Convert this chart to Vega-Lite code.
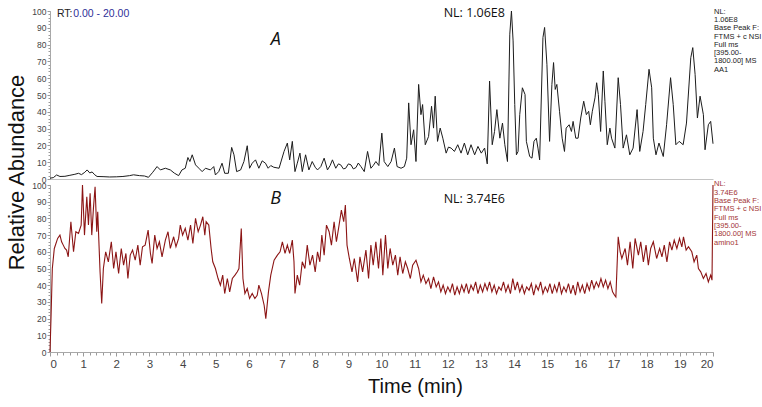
{
  "$schema": "https://vega.github.io/schema/vega-lite/v6.json",
  "background": "white",
  "padding": {"left": 5, "top": 7, "right": 0, "bottom": 5},
  "bounds": "flush",
  "spacing": 6,
  "config": {"view": {"stroke": null}},
  "datasets": {
    "a": [
      {"t":0.00,"v":0.5},{"t":0.10,"v":0.8},{"t":0.20,"v":2.4},{"t":0.30,"v":1.5},{"t":0.45,"v":1.6},{"t":0.60,"v":2.2},{"t":0.75,"v":2.8},{"t":0.86,"v":3.4},{"t":0.95,"v":2.6},{"t":1.05,"v":4.0},{"t":1.12,"v":5.4},{"t":1.20,"v":3.6},{"t":1.27,"v":4.2},{"t":1.35,"v":2.5},{"t":1.42,"v":1.5},{"t":1.60,"v":1.4},{"t":1.80,"v":1.2},{"t":2.00,"v":1.3},{"t":2.20,"v":1.5},{"t":2.40,"v":2.0},{"t":2.52,"v":2.5},{"t":2.70,"v":2.0},{"t":2.85,"v":1.8},{"t":2.97,"v":1.0},{"t":3.10,"v":4.0},{"t":3.23,"v":7.4},{"t":3.33,"v":5.4},{"t":3.48,"v":6.4},{"t":3.63,"v":5.4},{"t":3.75,"v":3.5},{"t":3.88,"v":2.0},{"t":3.98,"v":5.4},{"t":4.08,"v":6.4},{"t":4.16,"v":12.8},{"t":4.22,"v":10.4},{"t":4.29,"v":14.4},{"t":4.39,"v":8.4},{"t":4.49,"v":6.4},{"t":4.59,"v":4.4},{"t":4.69,"v":6.4},{"t":4.84,"v":5.4},{"t":4.94,"v":7.4},{"t":4.99,"v":2.4},{"t":5.09,"v":4.4},{"t":5.19,"v":9.4},{"t":5.27,"v":3.4},{"t":5.38,"v":3.4},{"t":5.48,"v":18.8},{"t":5.55,"v":14.4},{"t":5.63,"v":4.4},{"t":5.75,"v":5.4},{"t":5.85,"v":10.4},{"t":5.95,"v":19.8},{"t":6.02,"v":6.4},{"t":6.10,"v":9.4},{"t":6.20,"v":11.4},{"t":6.30,"v":6.4},{"t":6.40,"v":10.8},{"t":6.50,"v":9.4},{"t":6.58,"v":6.4},{"t":6.66,"v":8.0},{"t":6.75,"v":7.0},{"t":6.91,"v":6.4},{"t":7.06,"v":16.4},{"t":7.16,"v":21.4},{"t":7.23,"v":11.4},{"t":7.31,"v":22.4},{"t":7.39,"v":4.4},{"t":7.46,"v":9.4},{"t":7.54,"v":15.4},{"t":7.61,"v":4.4},{"t":7.71,"v":14.4},{"t":7.81,"v":5.4},{"t":7.91,"v":10.4},{"t":8.00,"v":7.0},{"t":8.07,"v":5.4},{"t":8.17,"v":7.4},{"t":8.27,"v":12.4},{"t":8.37,"v":5.4},{"t":8.45,"v":8.0},{"t":8.52,"v":11.4},{"t":8.62,"v":6.4},{"t":8.70,"v":9.0},{"t":8.77,"v":8.4},{"t":8.85,"v":6.0},{"t":8.92,"v":6.4},{"t":9.00,"v":9.0},{"t":9.08,"v":8.4},{"t":9.15,"v":6.0},{"t":9.23,"v":6.8},{"t":9.30,"v":9.5},{"t":9.38,"v":7.4},{"t":9.48,"v":4.4},{"t":9.58,"v":16.4},{"t":9.68,"v":6.4},{"t":9.75,"v":8.0},{"t":9.83,"v":10.4},{"t":9.92,"v":8.0},{"t":10.01,"v":27.3},{"t":10.08,"v":10.4},{"t":10.19,"v":7.4},{"t":10.29,"v":10.4},{"t":10.39,"v":18.4},{"t":10.47,"v":7.4},{"t":10.59,"v":6.4},{"t":10.69,"v":7.4},{"t":10.76,"v":12.4},{"t":10.82,"v":45.3},{"t":10.89,"v":20.4},{"t":10.97,"v":29.3},{"t":11.04,"v":10.4},{"t":11.12,"v":56.3},{"t":11.19,"v":38.3},{"t":11.24,"v":44.3},{"t":11.32,"v":20.4},{"t":11.42,"v":25.3},{"t":11.51,"v":43.3},{"t":11.57,"v":30.3},{"t":11.62,"v":49.3},{"t":11.69,"v":22.4},{"t":11.77,"v":30.3},{"t":11.85,"v":24.3},{"t":11.95,"v":15.4},{"t":12.02,"v":19.0},{"t":12.10,"v":18.4},{"t":12.20,"v":16.4},{"t":12.30,"v":20.4},{"t":12.40,"v":15.4},{"t":12.50,"v":21.4},{"t":12.60,"v":14.4},{"t":12.70,"v":20.4},{"t":12.81,"v":14.4},{"t":12.91,"v":19.4},{"t":13.01,"v":15.4},{"t":13.11,"v":18.4},{"t":13.19,"v":9.0},{"t":13.26,"v":58.3},{"t":13.34,"v":20.4},{"t":13.41,"v":28.3},{"t":13.48,"v":41.3},{"t":13.57,"v":24.3},{"t":13.65,"v":33.3},{"t":13.72,"v":20.4},{"t":13.80,"v":10.4},{"t":13.87,"v":86.2},{"t":13.92,"v":100},{"t":13.97,"v":82.2},{"t":14.02,"v":44.3},{"t":14.07,"v":14.4},{"t":14.12,"v":16.4},{"t":14.17,"v":38.3},{"t":14.25,"v":54.3},{"t":14.33,"v":50.3},{"t":14.37,"v":22.4},{"t":14.47,"v":13.4},{"t":14.54,"v":12.4},{"t":14.60,"v":22.4},{"t":14.67,"v":24.3},{"t":14.72,"v":18.4},{"t":14.77,"v":11.4},{"t":14.87,"v":84.2},{"t":14.92,"v":90.2},{"t":14.99,"v":68.3},{"t":15.07,"v":22.4},{"t":15.14,"v":56.3},{"t":15.19,"v":69.3},{"t":15.24,"v":53.3},{"t":15.29,"v":56.3},{"t":15.37,"v":40.3},{"t":15.45,"v":24.3},{"t":15.52,"v":16.4},{"t":15.57,"v":30.3},{"t":15.66,"v":32.3},{"t":15.73,"v":28.3},{"t":15.78,"v":34.3},{"t":15.86,"v":24.3},{"t":15.93,"v":24.3},{"t":16.01,"v":36.3},{"t":16.10,"v":46.3},{"t":16.18,"v":38.3},{"t":16.25,"v":40.3},{"t":16.30,"v":32.3},{"t":16.36,"v":40.3},{"t":16.44,"v":48.3},{"t":16.49,"v":57.3},{"t":16.54,"v":50.3},{"t":16.61,"v":28.3},{"t":16.69,"v":64.3},{"t":16.74,"v":46.3},{"t":16.81,"v":20.4},{"t":16.89,"v":30.3},{"t":16.94,"v":24.3},{"t":17.04,"v":18.4},{"t":17.14,"v":60.3},{"t":17.21,"v":44.3},{"t":17.29,"v":18.4},{"t":17.39,"v":26.3},{"t":17.49,"v":14.4},{"t":17.59,"v":18.4},{"t":17.71,"v":41.3},{"t":17.79,"v":16.4},{"t":17.89,"v":28.3},{"t":17.97,"v":44.3},{"t":18.07,"v":65.3},{"t":18.15,"v":54.3},{"t":18.20,"v":24.3},{"t":18.28,"v":14.4},{"t":18.37,"v":21.4},{"t":18.50,"v":13.4},{"t":18.60,"v":32.3},{"t":18.72,"v":60.3},{"t":18.80,"v":44.3},{"t":18.88,"v":20.4},{"t":18.98,"v":22.4},{"t":19.10,"v":20.4},{"t":19.20,"v":33.3},{"t":19.33,"v":72.2},{"t":19.39,"v":78.2},{"t":19.46,"v":62.3},{"t":19.53,"v":36.3},{"t":19.61,"v":49.3},{"t":19.71,"v":38.3},{"t":19.76,"v":17.4},{"t":19.86,"v":32.3},{"t":19.93,"v":34.3},{"t":20.00,"v":21.0}
    ],
    "b": [
      {"t":0.00,"v":0},{"t":0.03,"v":20},{"t":0.07,"v":50},{"t":0.13,"v":62},{"t":0.23,"v":68},{"t":0.30,"v":70},{"t":0.35,"v":66},{"t":0.40,"v":64},{"t":0.45,"v":62},{"t":0.50,"v":61},{"t":0.55,"v":57},{"t":0.63,"v":78},{"t":0.71,"v":60},{"t":0.78,"v":72},{"t":0.86,"v":71},{"t":0.94,"v":76},{"t":0.98,"v":100},{"t":1.04,"v":70},{"t":1.11,"v":93},{"t":1.16,"v":76},{"t":1.21,"v":95},{"t":1.26,"v":70},{"t":1.31,"v":86},{"t":1.36,"v":99},{"t":1.41,"v":72},{"t":1.44,"v":84},{"t":1.51,"v":48},{"t":1.56,"v":29},{"t":1.61,"v":50},{"t":1.68,"v":60},{"t":1.76,"v":54},{"t":1.85,"v":66},{"t":1.92,"v":50},{"t":1.99,"v":60},{"t":2.07,"v":47},{"t":2.15,"v":62},{"t":2.22,"v":52},{"t":2.29,"v":59},{"t":2.35,"v":44},{"t":2.42,"v":58},{"t":2.49,"v":61},{"t":2.57,"v":55},{"t":2.65,"v":64},{"t":2.72,"v":52},{"t":2.79,"v":63},{"t":2.87,"v":64},{"t":2.96,"v":73},{"t":3.03,"v":59},{"t":3.08,"v":53},{"t":3.16,"v":70},{"t":3.23,"v":62},{"t":3.30,"v":66},{"t":3.38,"v":57},{"t":3.48,"v":67},{"t":3.56,"v":72},{"t":3.63,"v":62},{"t":3.73,"v":69},{"t":3.80,"v":63},{"t":3.88,"v":68},{"t":3.93,"v":76},{"t":4.00,"v":70},{"t":4.08,"v":74},{"t":4.16,"v":67},{"t":4.24,"v":76},{"t":4.31,"v":65},{"t":4.39,"v":80},{"t":4.47,"v":72},{"t":4.54,"v":76},{"t":4.61,"v":81},{"t":4.67,"v":70},{"t":4.71,"v":78},{"t":4.79,"v":76},{"t":4.86,"v":62},{"t":4.91,"v":54},{"t":4.99,"v":50},{"t":5.07,"v":44},{"t":5.14,"v":40},{"t":5.21,"v":46},{"t":5.27,"v":35},{"t":5.35,"v":44},{"t":5.42,"v":36},{"t":5.50,"v":44},{"t":5.58,"v":46},{"t":5.65,"v":48},{"t":5.70,"v":50},{"t":5.77,"v":74},{"t":5.82,"v":44},{"t":5.88,"v":35},{"t":5.95,"v":38},{"t":6.02,"v":32},{"t":6.10,"v":35},{"t":6.18,"v":32},{"t":6.25,"v":34},{"t":6.30,"v":40},{"t":6.38,"v":35},{"t":6.46,"v":28},{"t":6.51,"v":20},{"t":6.59,"v":36},{"t":6.66,"v":46},{"t":6.76,"v":55},{"t":6.86,"v":58},{"t":6.94,"v":60},{"t":7.01,"v":66},{"t":7.09,"v":59},{"t":7.16,"v":64},{"t":7.23,"v":59},{"t":7.31,"v":67},{"t":7.36,"v":54},{"t":7.39,"v":35},{"t":7.46,"v":46},{"t":7.53,"v":40},{"t":7.61,"v":54},{"t":7.69,"v":50},{"t":7.76,"v":64},{"t":7.84,"v":52},{"t":7.92,"v":58},{"t":8.00,"v":48},{"t":8.07,"v":60},{"t":8.14,"v":54},{"t":8.20,"v":70},{"t":8.27,"v":58},{"t":8.34,"v":76},{"t":8.42,"v":72},{"t":8.49,"v":64},{"t":8.57,"v":78},{"t":8.64,"v":66},{"t":8.72,"v":76},{"t":8.79,"v":85},{"t":8.86,"v":78},{"t":8.91,"v":88},{"t":8.96,"v":64},{"t":9.03,"v":56},{"t":9.11,"v":48},{"t":9.18,"v":56},{"t":9.28,"v":42},{"t":9.35,"v":57},{"t":9.43,"v":48},{"t":9.53,"v":61},{"t":9.61,"v":44},{"t":9.68,"v":64},{"t":9.75,"v":52},{"t":9.83,"v":66},{"t":9.91,"v":50},{"t":9.98,"v":68},{"t":10.04,"v":46},{"t":10.12,"v":70},{"t":10.19,"v":50},{"t":10.26,"v":62},{"t":10.34,"v":52},{"t":10.42,"v":58},{"t":10.49,"v":46},{"t":10.56,"v":57},{"t":10.64,"v":47},{"t":10.72,"v":54},{"t":10.79,"v":50},{"t":10.87,"v":44},{"t":10.94,"v":52},
      {"t":11.04,"v":55},{"t":11.12,"v":50},{"t":11.19,"v":42},{"t":11.26,"v":46},{"t":11.34,"v":41},{"t":11.42,"v":44},{"t":11.49,"v":38},{"t":11.57,"v":45},{"t":11.65,"v":39},{"t":11.72,"v":42},{"t":11.79,"v":36},{"t":11.86,"v":40},{"t":11.93,"v":35},{"t":12.00,"v":39},{"t":12.07,"v":36},{"t":12.14,"v":41},{"t":12.21,"v":34},{"t":12.28,"v":39},{"t":12.35,"v":35},{"t":12.42,"v":40},{"t":12.49,"v":36},{"t":12.56,"v":41},{"t":12.63,"v":35},{"t":12.70,"v":40},{"t":12.77,"v":37},{"t":12.84,"v":42},{"t":12.91,"v":35},{"t":12.98,"v":40},{"t":13.05,"v":36},{"t":13.12,"v":41},{"t":13.19,"v":37},{"t":13.26,"v":42},{"t":13.33,"v":36},{"t":13.40,"v":40},{"t":13.47,"v":35},{"t":13.54,"v":39},{"t":13.61,"v":37},{"t":13.68,"v":42},{"t":13.75,"v":36},{"t":13.82,"v":40},{"t":13.89,"v":35},{"t":13.96,"v":44},{"t":14.03,"v":37},{"t":14.10,"v":42},{"t":14.17,"v":36},{"t":14.24,"v":40},{"t":14.31,"v":35},{"t":14.38,"v":39},{"t":14.45,"v":37},{"t":14.52,"v":41},{"t":14.59,"v":34},{"t":14.66,"v":40},{"t":14.73,"v":37},{"t":14.80,"v":42},{"t":14.87,"v":35},{"t":14.94,"v":39},{"t":15.01,"v":36},{"t":15.08,"v":41},{"t":15.15,"v":35},{"t":15.22,"v":40},{"t":15.29,"v":36},{"t":15.36,"v":42},{"t":15.43,"v":35},{"t":15.50,"v":39},{"t":15.57,"v":36},{"t":15.64,"v":41},{"t":15.71,"v":35},{"t":15.78,"v":40},{"t":15.85,"v":34},{"t":15.92,"v":42},{"t":15.99,"v":36},{"t":16.06,"v":40},{"t":16.13,"v":35},{"t":16.20,"v":41},{"t":16.27,"v":37},{"t":16.34,"v":43},{"t":16.41,"v":38},{"t":16.48,"v":42},{"t":16.55,"v":39},{"t":16.62,"v":44},{"t":16.69,"v":39},{"t":16.76,"v":43},{"t":16.83,"v":38},{"t":16.90,"v":42},{"t":16.97,"v":36},{"t":17.03,"v":34},{"t":17.07,"v":33},{"t":17.14,"v":69},{"t":17.20,"v":60},{"t":17.25,"v":56},{"t":17.35,"v":62},{"t":17.42,"v":52},{"t":17.50,"v":66},{"t":17.58,"v":50},{"t":17.65,"v":68},{"t":17.75,"v":58},{"t":17.82,"v":66},{"t":17.90,"v":54},{"t":17.98,"v":64},{"t":18.05,"v":52},{"t":18.12,"v":62},{"t":18.20,"v":66},{"t":18.30,"v":56},{"t":18.39,"v":62},{"t":18.46,"v":57},{"t":18.53,"v":64},{"t":18.61,"v":54},{"t":18.69,"v":66},{"t":18.76,"v":61},{"t":18.83,"v":67},{"t":18.91,"v":62},{"t":18.99,"v":68},{"t":19.06,"v":63},{"t":19.11,"v":69},{"t":19.19,"v":61},{"t":19.26,"v":63},{"t":19.36,"v":60},{"t":19.43,"v":54},{"t":19.51,"v":58},{"t":19.56,"v":50},{"t":19.63,"v":48},{"t":19.71,"v":44},{"t":19.79,"v":47},{"t":19.86,"v":42},{"t":19.93,"v":46},{"t":19.97,"v":43},{"t":20.00,"v":100}
    ]
  },
  "vconcat": [
    {
      "width": 663,
      "height": 168,
      "layer": [
        {
          "data": {"name": "a"},
          "mark": {"type": "line", "strokeOpacity": 0},
          "encoding": {
            "x": {"field": "t", "type": "quantitative", "scale": {"domain": [0, 20], "nice": false}, "axis": null},
            "y": {"field": "v", "type": "quantitative", "scale": {"domain": [0, 100], "nice": false}, "axis": {"orient": "left", "tickCount": 50, "labels": false, "domain": false, "tickSize": 2, "tickColor": "#9a9a9a", "grid": false, "title": null}}
          }
        },
        {
          "data": {"name": "a"},
          "mark": {"type": "line", "color": "#1c1c1c", "strokeWidth": 1},
          "encoding": {
            "x": {"field": "t", "type": "quantitative", "scale": {"domain": [0, 20], "nice": false}, "axis": {"orient": "bottom", "labels": false, "ticks": false, "domain": true, "domainColor": "#c4c4c4", "grid": false, "title": null}},
            "y": {"field": "v", "type": "quantitative", "scale": {"domain": [0, 100], "nice": false}, "axis": {"orient": "left", "tickCount": 10, "grid": false, "domainColor": "#a8a8a8", "tickColor": "#9a9a9a", "tickSize": 3, "labelPadding": 1, "labelFont": "Liberation Sans", "labelFontSize": 8.5, "labelColor": "#444444", "title": "Relative Abundance", "titleFont": "Liberation Sans", "titleFontSize": 22, "titleFontWeight": "normal", "titleColor": "#111111", "titleAngle": -90, "titleX": -34, "titleY": 161, "titleAlign": "center", "titleBaseline": "middle"}}
          }
        },
        {
          "data": {"values": [{}]},
          "mark": {"type": "text", "text": "RT:", "align": "left", "baseline": "middle", "font": "Liberation Sans", "fontSize": 10.5, "color": "#222222"},
          "encoding": {"x": {"datum": 0.21, "type": "quantitative", "axis": null}, "y": {"datum": 98.2, "type": "quantitative", "axis": null}}
        },
        {
          "data": {"values": [{}]},
          "mark": {"type": "text", "text": "0.00 - 20.00", "align": "left", "baseline": "middle", "font": "Liberation Sans", "fontSize": 10.5, "color": "#2e2e98"},
          "encoding": {"x": {"datum": 0.70, "type": "quantitative", "axis": null}, "y": {"datum": 98.2, "type": "quantitative", "axis": null}}
        },
        {
          "data": {"values": [{}]},
          "mark": {"type": "text", "text": "A", "align": "center", "baseline": "middle", "font": "Open Sans", "fontSize": 18, "fontStyle": "italic", "color": "#111111"},
          "encoding": {"x": {"datum": 6.81, "type": "quantitative", "axis": null}, "y": {"datum": 82.7, "type": "quantitative", "axis": null}}
        },
        {
          "data": {"values": [{}]},
          "mark": {"type": "text", "text": "NL: 1.06E8", "align": "center", "baseline": "middle", "font": "Open Sans", "fontSize": 12.5, "color": "#111111"},
          "encoding": {"x": {"datum": 12.8, "type": "quantitative", "axis": null}, "y": {"datum": 98.8, "type": "quantitative", "axis": null}}
        },
        {
          "data": {"values": [{}]},
          "mark": {"type": "text", "text": ["NL:", "1.06E8", "Base Peak F:", "FTMS + c NSI", "Full ms", "[395.00-", "1800.00]  MS", "AA1"], "align": "left", "baseline": "top", "lineHeight": 8.3, "font": "Liberation Sans", "fontSize": 7.5, "color": "#222222"},
          "encoding": {"x": {"datum": 20.03, "type": "quantitative", "axis": null}, "y": {"datum": 102, "type": "quantitative", "axis": null}}
        }
      ],
      "resolve": {"axis": {"x": "independent", "y": "independent"}}
    },
    {
      "width": 663,
      "height": 167,
      "layer": [
        {
          "data": {"name": "b"},
          "mark": {"type": "line", "strokeOpacity": 0},
          "encoding": {
            "x": {"field": "t", "type": "quantitative", "scale": {"domain": [0, 20], "nice": false}, "axis": {"orient": "bottom", "tickCount": 100, "labels": false, "domain": false, "tickSize": 3, "tickColor": "#9a9a9a", "grid": false, "title": null}},
            "y": {"field": "v", "type": "quantitative", "scale": {"domain": [0, 100], "nice": false}, "axis": {"orient": "left", "tickCount": 50, "labels": false, "domain": false, "tickSize": 2, "tickColor": "#9a9a9a", "grid": false, "title": null}}
          }
        },
        {
          "data": {"name": "b"},
          "mark": {"type": "line", "color": "#8c1515", "strokeWidth": 1.1},
          "encoding": {
            "x": {"field": "t", "type": "quantitative", "scale": {"domain": [0, 20], "nice": false}, "axis": {"orient": "bottom", "tickCount": 20, "grid": false, "domainColor": "#a8a8a8", "tickColor": "#9a9a9a", "tickSize": 4, "labelPadding": 2, "labelFont": "Liberation Sans", "labelFontSize": 11.5, "labelColor": "#444444", "title": "Time (min)", "titleFont": "Liberation Sans", "titleFontSize": 20, "titleFontWeight": "normal", "titleColor": "#111111", "titlePadding": 7, "titleX": 365, "titleAlign": "center"}},
            "y": {"field": "v", "type": "quantitative", "scale": {"domain": [0, 100], "nice": false}, "axis": {"orient": "left", "tickCount": 10, "grid": false, "domainColor": "#a8a8a8", "tickColor": "#9a9a9a", "tickSize": 3, "labelPadding": 1, "labelFont": "Liberation Sans", "labelFontSize": 8.5, "labelColor": "#444444", "title": null}}
          }
        },
        {
          "data": {"values": [{}]},
          "mark": {"type": "text", "text": "B", "align": "center", "baseline": "middle", "font": "Open Sans", "fontSize": 18, "fontStyle": "italic", "color": "#111111"},
          "encoding": {"x": {"datum": 6.81, "type": "quantitative", "axis": null}, "y": {"datum": 91.6, "type": "quantitative", "axis": null}}
        },
        {
          "data": {"values": [{}]},
          "mark": {"type": "text", "text": "NL: 3.74E6", "align": "center", "baseline": "middle", "font": "Open Sans", "fontSize": 12.5, "color": "#111111"},
          "encoding": {"x": {"datum": 12.8, "type": "quantitative", "axis": null}, "y": {"datum": 91.6, "type": "quantitative", "axis": null}}
        },
        {
          "data": {"values": [{}]},
          "mark": {"type": "text", "text": ["NL:", "3.74E6", "Base Peak F:", "FTMS + c NSI", "Full ms", "[395.00-", "1800.00]  MS", "amino1"], "align": "left", "baseline": "top", "lineHeight": 8.3, "font": "Liberation Sans", "fontSize": 7.5, "color": "#a33535"},
          "encoding": {"x": {"datum": 20.03, "type": "quantitative", "axis": null}, "y": {"datum": 102.7, "type": "quantitative", "axis": null}}
        }
      ],
      "resolve": {"axis": {"x": "independent", "y": "independent"}}
    }
  ]
}
